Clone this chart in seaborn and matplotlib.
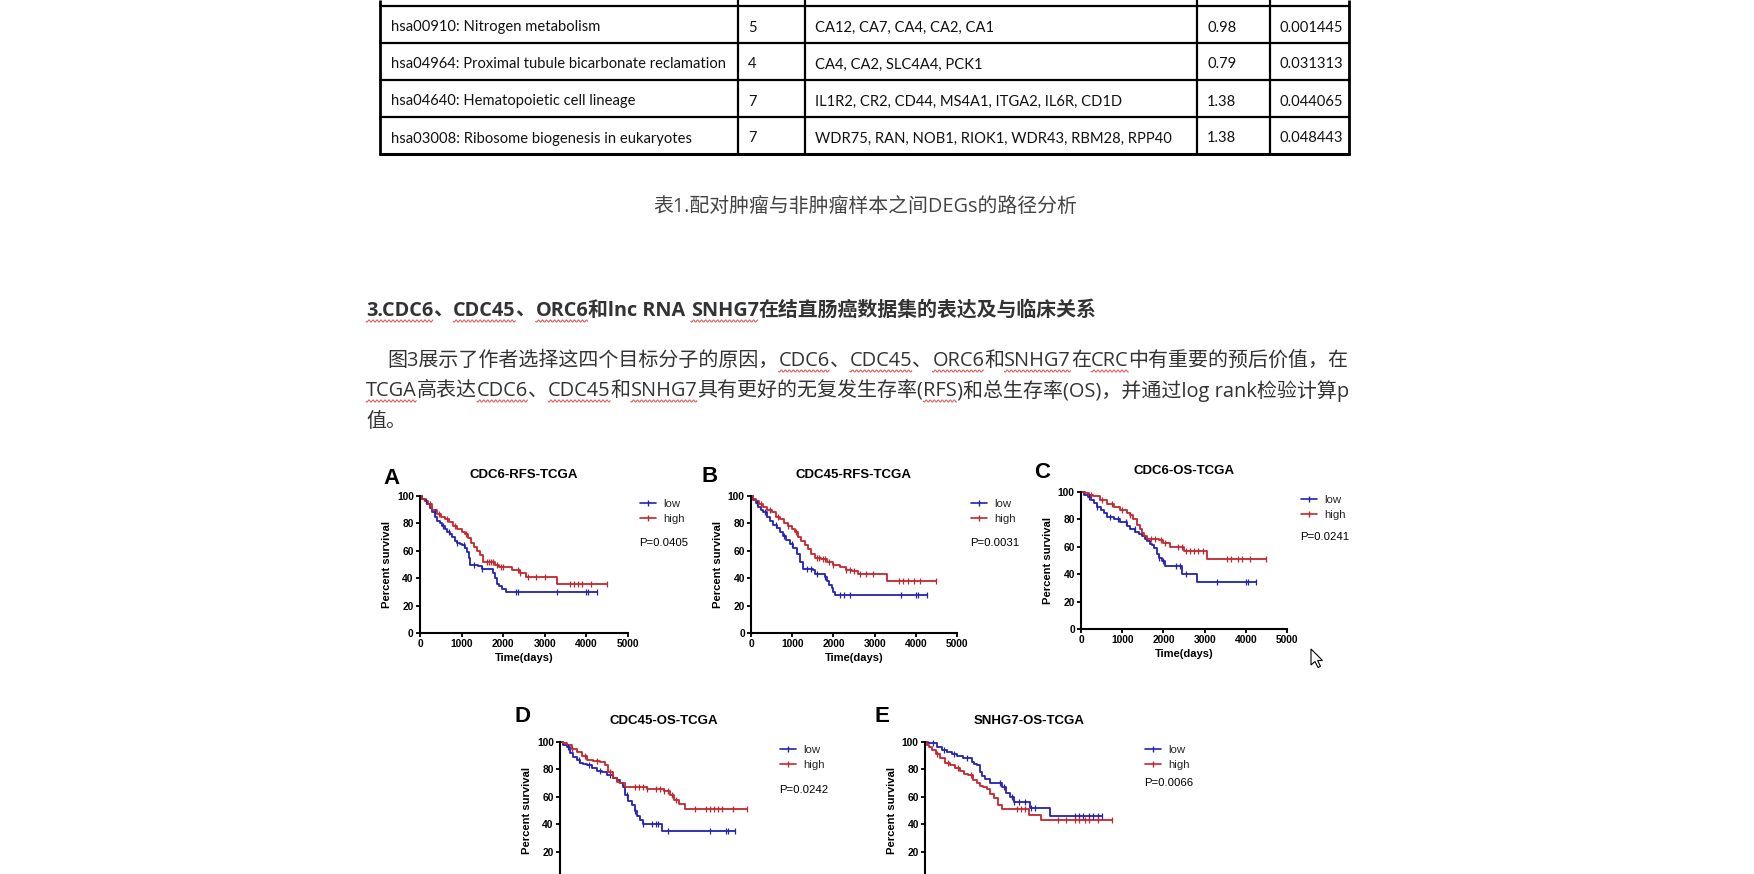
import numpy as np
import pandas as pd
import matplotlib
matplotlib.use("Agg")
import matplotlib.pyplot as plt
import seaborn as sns
from matplotlib.lines import Line2D
from matplotlib.patches import Polygon

# ---------------- table data ----------------
pathways = ["hsa00910: Nitrogen metabolism",
            "hsa04964: Proximal tubule bicarbonate reclamation",
            "hsa04640: Hematopoietic cell lineage",
            "hsa03008: Ribosome biogenesis in eukaryotes"]
counts = ["5", "4", "7", "7"]
genes = ["CA12, CA7, CA4, CA2, CA1",
         "CA4, CA2, SLC4A4, PCK1",
         "IL1R2, CR2, CD44, MS4A1, ITGA2, IL6R, CD1D",
         "WDR75, RAN, NOB1, RIOK1, WDR43, RBM28, RPP40"]
percents = ["0.98", "0.79", "1.38", "1.38"]
pvalues = ["0.001445", "0.031313", "0.044065", "0.048443"]

caption = "表1.配对肿瘤与非肿瘤样本之间DEGs的路径分析"
heading_runs = [("3.CDC6", True), ("、", False), ("CDC45", True), ("、", False),
                ("ORC6", True), ("和lnc RNA ", False), ("SNHG7", True),
                ("在结直肠癌数据集的表达及与临床关系", False)]
para1_runs = [("图3展示了作者选择这四个目标分子的原因，", False), ("CDC6", True), ("、", False),
              ("CDC45", True), ("、", False), ("ORC6", True), ("和", False), ("SNHG7", True),
              ("在", False), ("CRC", True), ("中有重要的预后价值，在", False)]
para2_runs = [("TCGA", True), ("高表达", False), ("CDC6", True), ("、", False), ("CDC45", True),
              ("和", False), ("SNHG7", True), ("具有更好的无复发生存率(", False), ("RFS", True),
              (")和总生存率(OS)，并通过log rank检验计算p", False)]
para3_runs = [("值。", False)]

# ---------------- survival data (time in days, survival %) ----------------
titles = ["CDC6-RFS-TCGA", "CDC45-RFS-TCGA", "CDC6-OS-TCGA", "CDC45-OS-TCGA", "SNHG7-OS-TCGA"]
letters = ["A", "B", "C", "D", "E"]
pvals = ["P=0.0405", "P=0.0031", "P=0.0241", "P=0.0242", "P=0.0066"]
legend_labels = ["low", "high"]

A_low_t = [0, 60, 120, 180, 240, 300, 360, 420, 480, 540, 600, 660, 720, 780, 840, 900, 960, 1020, 1080, 1130, 1170, 1210, 1400, 1480, 1760, 1800, 1860, 1900, 1960, 2060, 4250]
A_low_s = [100, 98, 96, 94, 91, 88, 85, 82, 80, 78, 76, 74, 72, 70, 67, 66, 65, 64, 62, 59, 55, 50, 49, 47, 44, 40, 36, 34, 32, 30, 30]
A_low_c = [150, 350, 550, 700, 900, 1050, 1300, 1500, 2300, 2350, 3300, 4000, 4050, 4250]
A_high_t = [0, 60, 120, 200, 300, 400, 500, 600, 700, 800, 900, 1000, 1080, 1150, 1220, 1300, 1380, 1450, 1520, 1800, 1900, 2200, 2400, 2560, 3300, 4500]
A_high_s = [100, 98, 96, 94, 90, 87, 85, 83, 81, 78, 76, 74, 72, 69, 66, 63, 60, 57, 52, 50, 48, 46, 44, 41, 36, 36]
A_high_c = [250, 450, 650, 850, 1100, 1600, 1650, 1700, 1750, 1850, 1950, 2000, 2350, 2400, 2600, 2800, 3000, 3600, 3700, 3800, 3900, 4100, 4500]

B_low_t = [0, 60, 120, 180, 240, 300, 380, 460, 540, 620, 700, 780, 860, 950, 1030, 1110, 1190, 1270, 1500, 1550, 1800, 1850, 1900, 1960, 2000, 2050, 4280]
B_low_s = [100, 97, 95, 92, 90, 88, 85, 82, 79, 77, 74, 71, 68, 65, 62, 58, 52, 47, 46, 43, 41, 38, 35, 33, 30, 28, 28]
B_low_c = [150, 350, 600, 800, 1000, 1350, 1450, 1600, 1800, 2150, 2250, 2400, 3650, 4000, 4050, 4280]
B_high_t = [0, 60, 120, 200, 300, 400, 500, 600, 700, 800, 900, 1000, 1080, 1150, 1220, 1300, 1380, 1450, 1550, 1700, 1850, 2000, 2150, 2300, 2450, 2600, 3300, 4500]
B_high_s = [100, 98, 96, 94, 92, 90, 88, 85, 83, 80, 78, 76, 74, 70, 67, 64, 61, 58, 55, 54, 52, 50, 48, 46, 45, 43, 38, 38]
B_high_c = [250, 450, 650, 900, 1100, 1600, 1650, 1750, 1800, 1900, 2000, 2300, 2400, 2500, 2650, 2800, 2950, 3600, 3700, 3800, 3950, 4100, 4500]

C_low_t = [0, 80, 160, 240, 320, 400, 480, 560, 640, 800, 950, 1110, 1200, 1310, 1400, 1475, 1550, 1600, 1680, 1720, 1760, 1840, 1900, 1960, 2040, 2450, 2820, 4250]
C_low_s = [100, 98, 96, 94, 92, 89, 87, 85, 82, 80, 78, 75, 73, 71, 69, 68, 66, 64, 62, 61, 59, 55, 52, 50, 46, 40, 34, 34]
C_low_c = [200, 400, 700, 900, 1100, 1300, 1900, 2000, 2300, 2400, 2550, 3300, 4000, 4050, 4250]
C_high_t = [0, 100, 200, 300, 450, 620, 800, 950, 1110, 1200, 1270, 1350, 1420, 1475, 1540, 1600, 1900, 2000, 2150, 2500, 3050, 4500]
C_high_s = [100, 99, 98, 97, 94, 91, 89, 87, 85, 83, 80, 76, 73, 70, 68, 66, 65, 63, 60, 57, 51, 51]
C_high_c = [250, 500, 750, 1000, 1200, 1700, 1800, 1950, 2050, 2350, 2450, 2550, 2650, 2750, 2850, 2950, 3550, 3650, 3800, 3900, 4100, 4500]

D_low_t = [0, 80, 160, 240, 320, 400, 480, 560, 640, 760, 880, 1000, 1120, 1280, 1360, 1440, 1520, 1560, 1640, 1720, 1800, 1840, 1920, 2000, 2450, 4200]
D_low_s = [100, 98, 96, 92, 89, 87, 85, 84, 83, 81, 79, 78, 76, 74, 72, 70, 67, 61, 57, 54, 50, 46, 43, 40, 35, 35]
D_low_c = [200, 450, 700, 950, 1200, 1600, 1800, 2000, 2200, 2300, 2350, 2600, 3600, 4000, 4050, 4200]
D_high_t = [0, 80, 160, 280, 400, 520, 640, 800, 960, 1080, 1160, 1280, 1360, 1440, 1560, 2100, 2500, 2650, 2750, 2850, 3000, 4500]
D_high_s = [100, 99, 97.5, 95, 93, 90, 87, 86, 85.5, 83, 78, 74, 71, 70, 67, 66, 64, 61, 58, 55, 51, 51]
D_high_c = [300, 600, 900, 1200, 1800, 1900, 2000, 2100, 2300, 2400, 2500, 2600, 2700, 2800, 3250, 3500, 3600, 3700, 3800, 3900, 4150, 4500]

E_low_t = [0, 80, 160, 280, 400, 520, 640, 760, 920, 1080, 1120, 1180, 1240, 1320, 1380, 1440, 1560, 1850, 1950, 2050, 2150, 2520, 3000, 4250]
E_low_s = [100, 99.5, 99, 96, 94, 93, 91, 90, 88.5, 88, 85.5, 84, 83, 78, 75, 73, 70, 67, 63, 60, 56, 52, 46, 46]
E_low_c = [200, 450, 700, 1000, 1800, 1900, 2100, 2150, 2250, 2400, 2550, 2650, 3600, 3700, 3800, 3950, 4050, 4150, 4250]
E_high_t = [0, 40, 100, 160, 260, 360, 480, 600, 720, 840, 940, 1040, 1160, 1240, 1320, 1400, 1480, 1560, 1660, 1760, 1840, 2500, 2780, 4500]
E_high_s = [100, 97.5, 96, 94, 91, 88, 85, 83, 81, 79, 77, 76, 72, 70, 68, 67, 66, 62, 59, 54, 51, 47, 43, 43]
E_high_c = [300, 550, 800, 1100, 2200, 2300, 2400, 3200, 3400, 3600, 3700, 3850, 3950, 4150, 4500]

x_ticks = [0, 1000, 2000, 3000, 4000, 5000]
y_ticks = [0, 20, 40, 60, 80, 100]

# ---------------- style ----------------
sns.set_theme(style="ticks")
plt.rcParams["font.family"] = ["Liberation Sans", "DejaVu Sans"]
BLUE = "#2323b0"
RED = "#c4262d"
CJK = ["Open Sans", "Noto Sans CJK SC", "DejaVu Sans"]

W, H = 1754, 874
fig = plt.figure(figsize=(W / 100, H / 100), dpi=100)
fig.patch.set_facecolor("white")
bg = fig.add_axes([0, 0, 1, 1])
bg.set_xlim(0, W)
bg.set_ylim(H, 0)
bg.axis("off")
renderer = fig.canvas.get_renderer()


def measure(text, size, **kw):
    t = bg.text(0, 0, text, fontsize=size, **kw)
    w = t.get_window_extent(renderer=renderer).width
    t.remove()
    return w


def advance(text, size, **kw):
    if text.endswith(" "):
        return measure(text + ".", size, **kw) - measure(".", size, **kw)
    return measure(text, size, **kw)


def wavy(x0, x1, y):
    xs = np.arange(x0, x1, 0.4)
    ys = y + 1.1 * np.sin((xs - x0) * 2 * np.pi / 4.0)
    bg.plot(xs, ys, color="#e0504a", lw=0.7, solid_capstyle="butt")


def draw_runs(x, y, runs, size, **kw):
    for text, wav in runs:
        bg.text(x, y, text, fontsize=size, ha="left", va="center", **kw)
        w = advance(text, size, **kw)
        if wav:
            wavy(x, x + w, y + 10)
        x += w


# ---------------- table ----------------
col_x = [380, 738, 805, 1197, 1270, 1349]
row_y = [6, 43, 80, 117, 154]
for i, x in enumerate(col_x):
    bg.plot([x, x], [0, 155], color="black", lw=2.0 if i in (0, 5) else 1.6, solid_capstyle="butt")
for j, y in enumerate(row_y):
    bg.plot([col_x[0] - 1, col_x[-1] + 1], [y, y], color="black", lw=2.2 if j == 4 else 1.6,
            solid_capstyle="butt")

tfam = ["Lato", "DejaVu Sans"]
tsize = 11 * 333 / measure(pathways[1], 11, family=tfam)
text_x = [391, 748, 815, 1207, 1279]
for r in range(4):
    yc = (row_y[r] + row_y[r + 1]) / 2 + 3
    for cx, col in zip(text_x, [pathways, counts, genes, percents, pvalues]):
        bg.text(cx, yc, col[r], fontsize=tsize, family=tfam, ha="left", va="center", color="#111111")

# ---------------- caption / heading / paragraph ----------------
csize = 14 * 425 / measure(caption, 14, family=CJK)
bg.text(865, 207, caption, fontsize=csize, family=CJK, ha="center", va="center", color="#444444")

htext = "".join(t for t, _ in heading_runs)
hsize = 14 * 736 / measure(htext, 14, family=CJK, fontweight="bold")
draw_runs(366, 311, heading_runs, hsize, family=CJK, fontweight="bold", color="#333333")

p2text = "".join(t for t, _ in para2_runs)
psize = 14 * 984 / measure(p2text, 14, family=CJK)
draw_runs(387, 361, para1_runs, psize, family=CJK, color="#333333")
draw_runs(366, 391, para2_runs, psize, family=CJK, color="#333333")
draw_runs(366, 422, para3_runs, psize, family=CJK, color="#333333")

# ---------------- KM panels ----------------
panel_px = [(420, 496, 208), (751, 496, 206), (1081, 492, 206), (560, 742, 208), (925, 742, 208)]
PH = 137
letter_px = [(392, 478), (710, 477), (1042, 473), (523, 717), (882, 716)]
p_dy = [47, 47, 45, 48, 41]
cut_bottom = [False, False, False, True, True]

curves = [
    (A_low_t, A_low_s, A_low_c, A_high_t, A_high_s, A_high_c),
    (B_low_t, B_low_s, B_low_c, B_high_t, B_high_s, B_high_c),
    (C_low_t, C_low_s, C_low_c, C_high_t, C_high_s, C_high_c),
    (D_low_t, D_low_s, D_low_c, D_high_t, D_high_s, D_high_c),
    (E_low_t, E_low_s, E_low_c, E_high_t, E_high_s, E_high_c),
]


def step_value(t, s, c):
    t = np.asarray(t)
    s = np.asarray(s)
    idx = np.searchsorted(t, np.asarray(c), side="right") - 1
    return s[np.clip(idx, 0, len(s) - 1)]


for k in range(5):
    left, top, pw = panel_px[k]
    ax = fig.add_axes([left / W, 1 - (top + PH) / H, pw / W, PH / H])
    ax.set_facecolor("none")
    lt, ls, lc, ht, hs, hc = curves[k]
    for t, s, c, col in [(lt, ls, lc, BLUE), (ht, hs, hc, RED)]:
        df = pd.DataFrame({"t": t, "s": s})
        sns.lineplot(data=df, x="t", y="s", ax=ax, color=col, lw=1.3, drawstyle="steps-post",
                     estimator=None, sort=False, legend=False, clip_on=False)
        dc = pd.DataFrame({"t": c, "s": step_value(t, s, c)})
        sns.scatterplot(data=dc, x="t", y="s", ax=ax, marker="|", s=22, color=col,
                        linewidth=0.9, legend=False, clip_on=False, zorder=3)
    ax.set_xlim(0, 5000)
    ax.set_ylim(0, 100)
    ax.set_xticks(x_ticks)
    ax.set_yticks(y_ticks)
    sns.despine(ax=ax)
    for sp in ["left", "bottom"]:
        ax.spines[sp].set_linewidth(1.5)
        ax.spines[sp].set_color("black")
    ax.tick_params(direction="out", length=3, width=1.3, labelsize=7.4, pad=1.5, colors="black")
    for lab in ax.get_xticklabels() + ax.get_yticklabels():
        lab.set_fontweight("bold")
    ax.set_ylabel("Percent survival", fontsize=8.1, fontweight="bold", color="black")
    ax.yaxis.label.set_va("center")
    ax.yaxis.set_label_coords(-33 / pw, 0.5)
    if cut_bottom[k]:
        # the bottom of these two panels lies below the page edge
        ax.tick_params(axis="x", labelbottom=False)
        ax.set_yticklabels([""] + [str(v) for v in y_ticks[1:]])
        for lab in ax.get_yticklabels():
            lab.set_fontweight("bold")
        ax.set_xlabel("")
    else:
        ax.set_xlabel("Time(days)", fontsize=8, fontweight="bold", color="black")
        ax.xaxis.label.set_va("center")
        ax.xaxis.set_label_coords(0.5, -25 / PH)

    handles = [Line2D([], [], color=BLUE, lw=1.2, marker="|", ms=5, mew=1),
               Line2D([], [], color=RED, lw=1.2, marker="|", ms=5, mew=1)]
    ax.legend(handles, legend_labels, loc="upper left", bbox_to_anchor=(220 / pw, 1 - 3 / PH),
              frameon=False, fontsize=8.2, handlelength=1.4, handletextpad=0.65,
              labelspacing=0.4, borderpad=0, borderaxespad=0)
    bg.text(left + 219, top + p_dy[k], pvals[k], fontsize=8.2, ha="left", va="center",
            color="black", family=["Liberation Sans"])
    bg.text(left + pw / 2, top - 21, titles[k], fontsize=9.5, fontweight="bold", ha="center",
            va="center", color="black", family=["Liberation Sans"])
    lx, ly = letter_px[k]
    bg.text(lx, ly, letters[k], fontsize=16, fontweight="bold", ha="center", va="center",
            color="black", family=["Liberation Sans"])

# mouse cursor decoration
tip = np.array([1311, 649])
shape = np.array([[0, 0], [0, 16], [4, 12.5], [7, 18.5], [9.5, 17.3], [6.6, 11.5], [11.5, 11.5]])
bg.add_patch(Polygon(tip + shape, closed=True, facecolor="white", edgecolor="black", lw=0.8, zorder=10))

fig.savefig("out.png", dpi=100, facecolor="white")
